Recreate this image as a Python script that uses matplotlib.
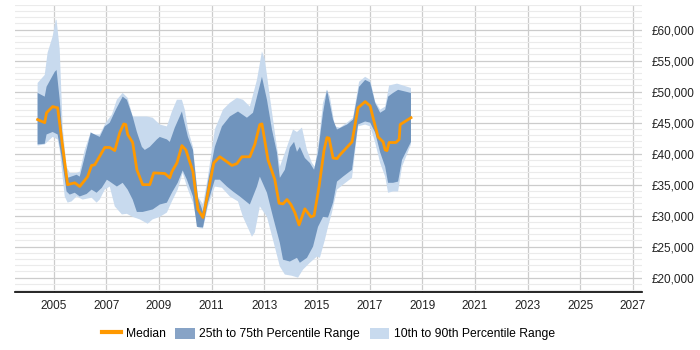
import matplotlib.pyplot as plt
from matplotlib.patches import Patch
from matplotlib.lines import Line2D
from matplotlib.ticker import MultipleLocator, FuncFormatter

plt.rcParams['font.family'] = ['Liberation Sans', 'DejaVu Sans']

# median
med_x = [2004.39, 2004.66, 2004.73, 2004.96, 2005.15, 2005.53, 2005.80, 2005.99, 2006.29, 2006.44,
         2006.56, 2006.94, 2007.13, 2007.32, 2007.51, 2007.66, 2007.74, 2007.81, 2008.00, 2008.16,
         2008.38, 2008.65, 2008.80, 2009.22, 2009.41, 2009.49, 2009.68, 2009.87, 2010.02, 2010.29,
         2010.48, 2010.67, 2010.86, 2011.08, 2011.31, 2011.58, 2011.77, 2011.96, 2012.15, 2012.45,
         2012.64, 2012.83, 2012.91, 2013.14, 2013.40, 2013.56, 2013.71, 2013.86, 2014.01, 2014.16,
         2014.32, 2014.54, 2014.77, 2014.89, 2015.08, 2015.27, 2015.38, 2015.46, 2015.61, 2015.76,
         2015.87, 2016.33, 2016.56, 2016.83, 2017.02, 2017.13, 2017.32, 2017.51, 2017.59, 2017.66,
         2017.74, 2018.00, 2018.12, 2018.16, 2018.57]
med_y = [45500, 45000, 46600, 47600, 47400, 35000, 35300, 34700, 36300, 38100,
         38200, 41000, 41000, 40500, 43400, 44800, 44700, 43100, 41800, 37400,
         35000, 35000, 36900, 36800, 36100, 37100, 38500, 41300, 40600, 37100,
         31000, 29700, 33700, 38500, 39500, 38700, 38100, 38400, 39500, 39500,
         41500, 44700, 44800, 39000, 35800, 32000, 31900, 32600, 31800, 30500,
         28500, 31100, 29800, 30000, 34700, 40600, 42600, 42500, 39300, 39200,
         39800, 41900, 47400, 48400, 47700, 45800, 42700, 41900, 40600, 40500,
         41800, 41800, 42300, 44700, 45800]

# 75th percentile
p75_x = [2004.39, 2004.66, 2004.73, 2005.04, 2005.11, 2005.23, 2005.34, 2005.49, 2005.53, 2005.87,
         2005.99, 2006.18, 2006.41, 2006.56, 2006.75, 2006.94, 2007.13, 2007.36, 2007.62, 2007.78,
         2008.00, 2008.16, 2008.35, 2008.46, 2008.65, 2008.92, 2009.03, 2009.30, 2009.41, 2009.60,
         2009.87, 2009.94, 2010.10, 2010.29, 2010.48, 2010.67, 2010.86, 2011.12, 2011.39, 2011.69,
         2012.00, 2012.34, 2012.57, 2012.91, 2013.10, 2013.29, 2013.48, 2013.59, 2013.78, 2013.97,
         2014.13, 2014.24, 2014.35, 2014.54, 2014.73, 2014.89, 2015.04, 2015.23, 2015.38, 2015.46,
         2015.61, 2015.76, 2016.14, 2016.37, 2016.60, 2016.83, 2017.02, 2017.21, 2017.40, 2017.59,
         2017.70, 2017.89, 2018.08, 2018.57]
p75_y = [49800, 49200, 50800, 53200, 53500, 48700, 42300, 36900, 36100, 36600,
         36300, 39500, 43400, 43100, 42700, 44400, 45000, 47100, 49200, 48700,
         46000, 43500, 41100, 40600, 41100, 42300, 42700, 42300, 41900, 44200,
         46800, 45500, 42700, 40600, 32900, 30600, 35500, 41100, 44400, 46000,
         46800, 45800, 46600, 52400, 48700, 43900, 40200, 36100, 37400, 41000,
         41900, 40300, 41100, 39300, 38500, 37400, 40200, 46600, 50300, 48700,
         45500, 43900, 44700, 45500, 50800, 51900, 51500, 48200, 46600, 47100,
         49200, 49800, 50300, 49800]

# 25th percentile
p25_x = [2004.39, 2004.66, 2004.73, 2004.96, 2005.15, 2005.30, 2005.49, 2005.61, 2005.80, 2005.99,
         2006.25, 2006.44, 2006.63, 2006.83, 2007.02, 2007.13, 2007.40, 2007.62, 2007.81, 2008.00,
         2008.16, 2008.38, 2008.76, 2009.03, 2009.30, 2009.49, 2009.71, 2009.90, 2010.06, 2010.29,
         2010.44, 2010.67, 2010.86, 2011.12, 2011.31, 2011.58, 2011.81, 2012.07, 2012.45, 2012.72,
         2012.83, 2013.10, 2013.33, 2013.59, 2013.71, 2013.97, 2014.24, 2014.35, 2014.62, 2014.85,
         2015.04, 2015.23, 2015.42, 2015.61, 2015.76, 2015.99, 2016.33, 2016.56, 2016.83, 2017.02,
         2017.21, 2017.40, 2017.59, 2017.70, 2017.89, 2018.08, 2018.23, 2018.57]
p25_y = [41500, 41600, 43100, 43500, 43100, 39500, 33900, 33400, 33700, 33100,
         33500, 34200, 33700, 34500, 35800, 35500, 34700, 35300, 34200, 32600,
         30600, 30600, 31000, 31800, 32100, 33700, 35300, 37300, 35800, 33100,
         28200, 28100, 32100, 35800, 35800, 34700, 33900, 33100, 31800, 34700,
         36300, 33700, 29800, 25600, 22900, 22600, 23200, 22400, 23200, 25000,
         28200, 29800, 29700, 32100, 35500, 36300, 37400, 44700, 45200, 45000,
         43400, 40200, 37900, 35300, 35300, 35500, 39000, 41900]

# 90th percentile
p90_x = [2004.39, 2004.66, 2004.77, 2004.96, 2005.08, 2005.11, 2005.23, 2005.34, 2005.49, 2005.61,
         2005.87, 2005.99, 2006.18, 2006.41, 2006.48, 2006.75, 2006.98, 2007.21, 2007.40, 2007.62,
         2007.81, 2008.00, 2008.27, 2008.54, 2008.76, 2009.03, 2009.30, 2009.49, 2009.68, 2009.87,
         2009.98, 2010.10, 2010.29, 2010.48, 2010.67, 2010.86, 2011.12, 2011.43, 2011.69, 2011.96,
         2012.19, 2012.45, 2012.72, 2012.91, 2013.02, 2013.21, 2013.40, 2013.59, 2013.86, 2014.09,
         2014.24, 2014.43, 2014.62, 2014.81, 2014.92, 2015.08, 2015.23, 2015.38, 2015.49, 2015.68,
         2015.87, 2016.14, 2016.37, 2016.60, 2016.83, 2017.02, 2017.21, 2017.40, 2017.59, 2017.74,
         2018.04, 2018.27, 2018.57]
p90_y = [51400, 52700, 56300, 58900, 61600, 61600, 56800, 44400, 37900, 36900,
         36900, 37100, 40600, 43500, 43100, 43100, 45000, 46300, 48700, 49800,
         49000, 46000, 46000, 46000, 45800, 44700, 44400, 46800, 48700, 48700,
         47100, 43900, 41100, 33100, 31800, 36300, 43900, 47100, 48200, 49000,
         48700, 47600, 51900, 56500, 55200, 49200, 43400, 37900, 41100, 43900,
         43500, 44200, 40600, 38500, 37900, 42300, 48200, 50300, 49200, 44400,
         44200, 45000, 45800, 51600, 52400, 51900, 48400, 47100, 47600, 51000,
         51300, 51000, 50600]

# 10th percentile
p10_x = [2004.39, 2004.66, 2004.96, 2005.15, 2005.23, 2005.42, 2005.53, 2005.68, 2005.87, 2006.10,
         2006.44, 2006.63, 2006.75, 2006.94, 2007.13, 2007.32, 2007.59, 2007.78, 2008.00, 2008.27,
         2008.57, 2008.76, 2009.03, 2009.30, 2009.49, 2009.71, 2009.90, 2010.06, 2010.29, 2010.48,
         2010.67, 2010.86, 2011.12, 2011.39, 2011.69, 2012.00, 2012.19, 2012.53, 2012.64, 2012.83,
         2013.10, 2013.33, 2013.59, 2013.78, 2014.05, 2014.28, 2014.47, 2014.73, 2015.00, 2015.11,
         2015.30, 2015.42, 2015.57, 2015.76, 2015.99, 2016.33, 2016.56, 2016.83, 2017.02, 2017.21,
         2017.40, 2017.59, 2017.70, 2017.89, 2018.08, 2018.23, 2018.57]
p10_y = [41300, 41500, 42700, 42300, 40600, 33100, 32100, 32300, 33100, 32600,
         32900, 32100, 32600, 34200, 34700, 31500, 30200, 30300, 29800, 29400,
         28700, 29400, 29800, 30500, 32300, 34200, 36900, 34700, 32100, 28100,
         27900, 31500, 34700, 34500, 33100, 32300, 29800, 26600, 27300, 31500,
         29800, 26100, 21800, 20500, 20300, 20000, 21300, 22400, 23400, 23200,
         26100, 28200, 30500, 34200, 35000, 36100, 44400, 44700, 44400, 41800,
         38500, 36300, 33700, 33900, 33900, 37900, 41500]

year_ticks = list(range(2005, 2028, 2))

c_med = '#ff9900'
c_mid = '#7094bd'
c_out = '#c8daee'

fig = plt.figure(figsize=(7, 3.5), dpi=100)
ax = fig.add_axes([0.021, 0.166, 0.896, 0.82])

ax.fill(p90_x + p10_x[::-1], p90_y + p10_y[::-1], color=c_out, lw=0, zorder=2)
ax.fill(p75_x + p25_x[::-1], p75_y + p25_y[::-1], color=c_mid, lw=0, zorder=3)
ax.plot(med_x, med_y, color=c_med, lw=2, zorder=4)

ax.set_xlim(2003.52, 2027.34)
ax.set_ylim(17700, 64000)
ax.set_xticks(year_ticks)
ax.yaxis.set_major_locator(MultipleLocator(5000))
ax.yaxis.set_minor_locator(MultipleLocator(1000))
ax.yaxis.set_major_formatter(FuncFormatter(lambda v, p: '£{:,.0f}'.format(v)))
ax.yaxis.tick_right()
ax.tick_params(axis='both', which='both', length=0, labelsize=8.5, colors='#222222')
ax.tick_params(axis='y', pad=7)
ax.tick_params(axis='x', pad=6)

ax.grid(axis='y', which='major', color='#cccccc', lw=0.9, zorder=0)
ax.grid(axis='y', which='minor', color='#ebebeb', lw=0.8, zorder=0)
ax.grid(axis='x', which='major', color='#cccccc', lw=0.9, zorder=0)
ax.set_axisbelow(True)
for s in ['top', 'left', 'right']:
    ax.spines[s].set_visible(False)
ax.spines['bottom'].set_color('black')
ax.spines['bottom'].set_linewidth(1.2)

handles = [Line2D([0], [0], color=c_med, lw=3),
           Patch(facecolor='#87a3c6', edgecolor='none'),
           Patch(facecolor=c_out, edgecolor='none')]
labels = ['Median', '25th to 75th Percentile Range', '10th to 90th Percentile Range']
fig.legend(handles, labels, loc='center', bbox_to_anchor=(0.469, 0.046), ncol=3,
           frameon=False, fontsize=8.7, handlelength=1.6, handleheight=1.05,
           columnspacing=0.8, handletextpad=0.4)

fig.savefig('out.png', dpi=100)
